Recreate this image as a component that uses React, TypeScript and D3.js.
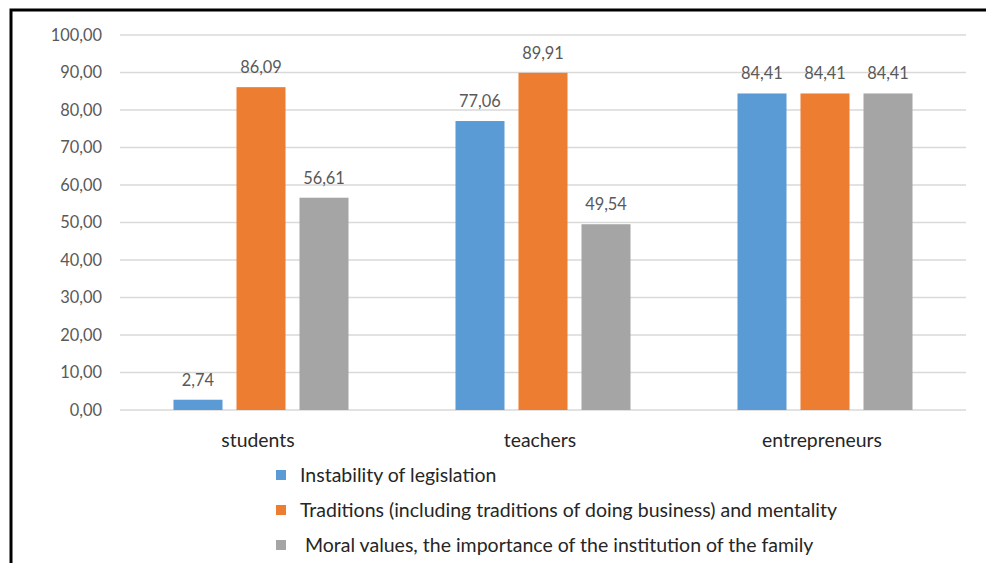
import React from "react";
import * as d3 from "d3";

const categories = ["students", "teachers", "entrepreneurs"];
const seriesNames = [
  "Instability of legislation",
  "Traditions (including traditions of doing business) and mentality",
  " Moral values, the importance of the institution of the family",
];
const instability = [2.74, 77.06, 84.41];
const traditions = [86.09, 89.91, 84.41];
const moral = [56.61, 49.54, 84.41];
const yTicks = [0, 10, 20, 30, 40, 50, 60, 70, 80, 90, 100];
const colors = ["#5B9BD5", "#ED7D31", "#A5A5A5"];

const seriesValues = [instability, traditions, moral];
const fmt = (v: number) => d3.format(".2f")(v).replace(".", ",");
const FONT = "Lato, 'Open Sans', sans-serif";

export default function App() {
  const W = 986, H = 563;
  const x0 = d3.scaleBand<string>().domain(categories).range([120, 966]).paddingInner(0).paddingOuter(0);
  const x1 = d3.scaleBand<number>().domain([0, 1, 2]).range([0, x0.bandwidth()]).paddingInner(0.222).paddingOuter(0.849);
  const y = d3.scaleLinear().domain([0, 100]).range([410, 35]);

  return (
    <svg width={W} height={H} style={{ position: "absolute", left: 0, top: 0, background: "#fff" }} fontFamily={FONT}>
      <rect x={0} y={0} width={W} height={H} fill="#fff" />
      {yTicks.map((t) => (
        <g key={t}>
          <line x1={120} x2={966} y1={y(t)} y2={y(t)} stroke="#D9D9D9" strokeWidth={1.3} />
          <text x={102} y={y(t)} dy="0.35em" textAnchor="end" fontSize={16.4} fill="#595959">{fmt(t)}</text>
        </g>
      ))}
      {categories.map((c, ci) => (
        <g key={c}>
          {seriesValues.map((vals, si) => {
            const bx = (x0(c) as number) + (x1(si) as number);
            const bw = x1.bandwidth();
            return (
              <g key={si}>
                <rect x={bx} y={y(vals[ci])} width={bw} height={y(0) - y(vals[ci])} fill={colors[si]} />
                <text x={bx + bw / 2} y={y(vals[ci]) - 14} textAnchor="middle" fontSize={16.4} fill="#595959">{fmt(vals[ci])}</text>
              </g>
            );
          })}
          <text x={(x0(c) as number) + x0.bandwidth() / 2 - 3} y={447} textAnchor="middle" fontSize={19.4} fill="#262626">{c}</text>
        </g>
      ))}
      {seriesNames.map((s, i) => (
        <g key={i}>
          <rect x={276} y={470 + i * 35} width={10} height={10} fill={colors[i]} />
          <text x={300} y={482 + i * 35} fontSize={19.5} fill="#262626" style={{ whiteSpace: "pre" }}>{s}</text>
        </g>
      ))}
      <rect x={11} y={10} width={990} height={600} fill="none" stroke="#000" strokeWidth={3} />
    </svg>
  );
}
